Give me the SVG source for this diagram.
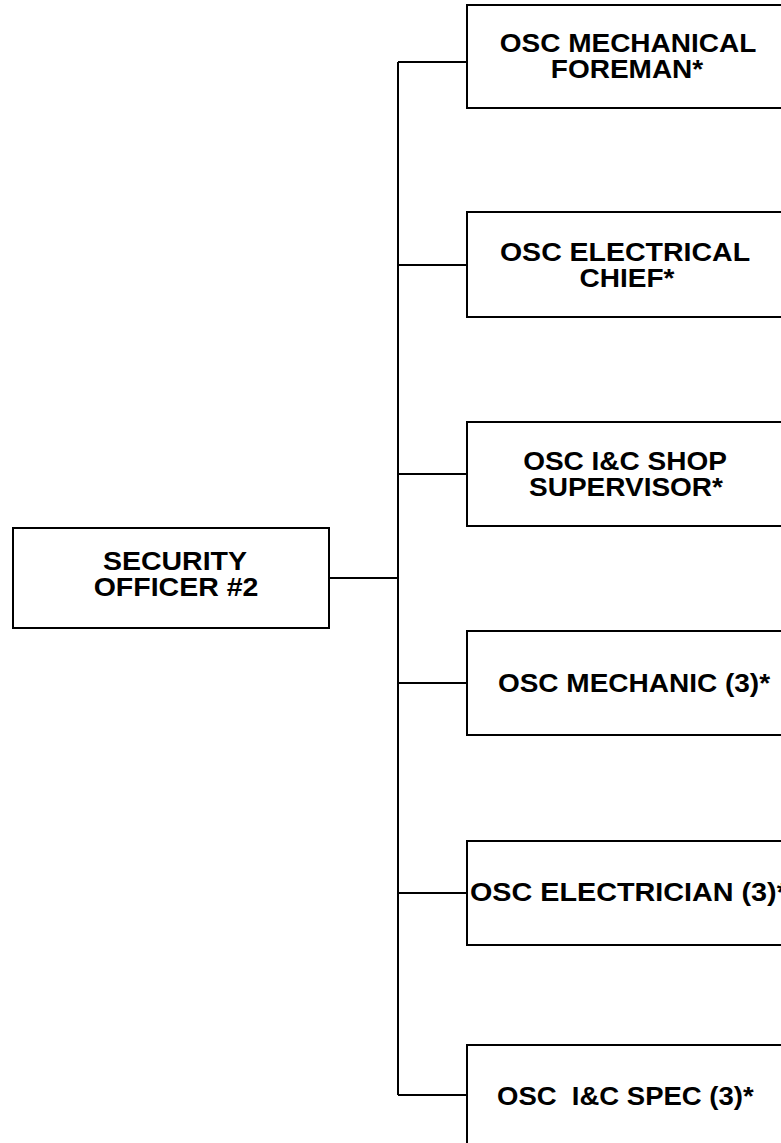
<svg xmlns="http://www.w3.org/2000/svg" width="781" height="1143" viewBox="0 0 781 1143">
<style>
.box{fill:#fff;stroke:#000;stroke-width:2}
.ln{fill:none;stroke:#000;stroke-width:2}
text{font-family:"Liberation Sans",Arial,sans-serif;font-weight:bold;font-size:25px;fill:#000;text-anchor:middle}
.st{text-anchor:start}
</style>
<rect width="781" height="1143" fill="#fff"/>
<g id="connectors">
<path class="ln" d="M329 578H398M398 62V1095M398 62H467M398 265H467M398 474H467M398 683H467M398 893H467M398 1095H467"/>
</g>
<g id="security-officer">
<rect class="box" x="13" y="528" width="316" height="100"/>
<text transform="translate(175,570) scale(1.14,1)">SECURITY</text>
<text transform="translate(176,596) scale(1.14,1)">OFFICER #2</text>
</g>
<g id="mech-foreman">
<rect class="box" x="467" y="5" width="330" height="103"/>
<text transform="translate(628,52) scale(1.12,1)">OSC MECHANICAL</text>
<text transform="translate(627,78) scale(1.12,1)">FOREMAN*</text>
</g>
<g id="elec-chief">
<rect class="box" x="467" y="212" width="330" height="105"/>
<text transform="translate(625,261) scale(1.14,1)">OSC ELECTRICAL</text>
<text transform="translate(627,287) scale(1.12,1)">CHIEF*</text>
</g>
<g id="ic-supervisor">
<rect class="box" x="467" y="422" width="330" height="104"/>
<text transform="translate(625,470) scale(1.12,1)">OSC I&amp;C SHOP</text>
<text transform="translate(626,496) scale(1.12,1)">SUPERVISOR*</text>
</g>
<g id="mechanic">
<rect class="box" x="467" y="631" width="330" height="104"/>
<text transform="translate(634,692) scale(1.12,1)">OSC MECHANIC (3)*</text>
</g>
<g id="electrician">
<rect class="box" x="467" y="841" width="330" height="104"/>
<text class="st" transform="translate(470,901) scale(1.15,1)">OSC ELECTRICIAN (3)*</text>
</g>
<g id="ic-spec">
<rect class="box" x="467" y="1045" width="330" height="120"/>
<text class="st" transform="translate(497,1105) scale(1.1,1)" xml:space="preserve">OSC  I&amp;C SPEC (3)*</text>
</g>
</svg>
